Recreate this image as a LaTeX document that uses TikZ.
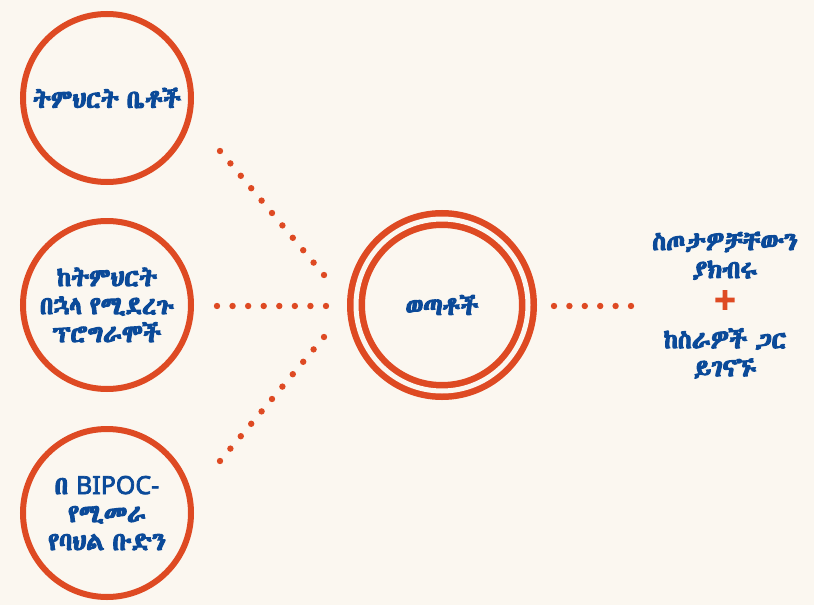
\documentclass[tikz,border=0pt]{standalone}
\usepackage{fontspec}
\setmainfont{Noto Sans}
\IfFontExistsTF{Abyssinica SIL}
    {\newfontfamily\geez{Abyssinica SIL}[AutoFakeBold=4.5, WordSpace=0.7]}
    {\IfFontExistsTF{FreeSerif}
        {\newfontfamily\geez{FreeSerif}[AutoFakeBold=4.5, WordSpace=0.7]}
        {\newfontfamily\geez{DejaVu Sans}}}
\newfontfamily\latinfont{Noto Sans}[FakeBold=3]
\newfontfamily\heavy{Noto Sans}[FakeBold=6]
\usetikzlibrary{positioning, calc}

\definecolor{flame}{HTML}{DE4A23}
\definecolor{ink}{HTML}{0B4A99}
\definecolor{paper}{HTML}{FBF7F0}

\begin{document}
\begin{tikzpicture}[
            x=1pt, y=-1pt,
            words/.style={text=ink, font=\geez\bfseries\fontsize{25}{28}\selectfont, align=center},
            group/.style={circle, draw=flame, line width=6pt, minimum size=168pt, inner sep=0pt, words},
            hub/.style={circle, draw=flame, line width=6.5pt, double=paper, double distance=5pt, minimum size=172pt, inner sep=0pt, words},
            plusmark/.style={text=flame, font=\heavy\fontsize{36}{36}\selectfont, inner sep=0pt},
            node distance=8pt
        ]

        \fill[paper] (0,0) rectangle (814,605);
        \useasboundingbox (0,0) rectangle (814,605);

        \node[group] (schools) at (107,98) {ትምህርት ቤቶች};
        \node[group] (afterschool) at (107,305) {ከትምህርት\\በኋላ የሚደረጉ\\ፕሮግራሞች};
        \node[group] (bipoc) at (107,513) {በ {\latinfont BIPOC-}\\የሚመራ\\የባህል ቡድን};

        \node[hub] (youth) at (442,305) {ወጣቶች};

        \node[plusmark] (plus) at (725,302) {+};
        \node[words, above=of plus] (gifts) {ስጦታዎቻቸውን\\ያክብሩ};
        \node[words, below=12pt of plus] (jobs) {ከስራዎች ጋር\\ይገናኙ};

        % dotted links
        \coordinate (t1) at (220,151);
        \coordinate (t2) at (324,275);
        \coordinate (m1) at (217,306);
        \coordinate (m2) at (326,306);
        \coordinate (b1) at (324,337);
        \coordinate (b2) at (220,461);
        \coordinate (r1) at (554,306);
        \coordinate (r2) at (631,306);

        \foreach \a/\b/\n in {t1/t2/10, m1/m2/7, b1/b2/10, r1/r2/5}
            \foreach \i in {0,...,\n}
                \fill[flame] ($(\a)!\i/\n!(\b)$) circle (3.2pt);

    \end{tikzpicture}
\end{document}
